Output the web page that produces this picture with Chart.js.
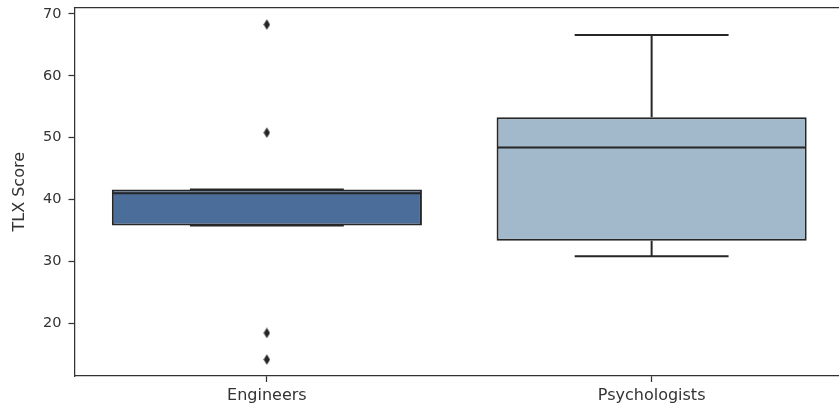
<!DOCTYPE html>
<html>
<head>
<meta charset="utf-8">
<script src="https://cdn.jsdelivr.net/npm/chart.js@4/dist/chart.umd.min.js"></script>
<style>
  html, body { margin: 0; padding: 0; background: #fff; overflow: hidden; width: 839px; height: 412px; }
  /* 右側外框在原圖被裁掉：畫布較寬，外層裁切 */
  #wrap { width: 839px; height: 412px; overflow: hidden; position: relative; }
  #chart { position: absolute; left: 0; top: 0; }
</style>
</head>
<body>
<div id="wrap"><canvas id="chart" width="850" height="412"></canvas></div>
<script>
// TLX 分數箱形圖
const categories = ['Engineers', 'Psychologists'];
const q1 = [35.8, 33.3];
const median = [41.0, 48.4];
const q3 = [41.6, 53.3];
const whiskerLow = [35.8, 30.8];
const whiskerHigh = [41.6, 66.6];
const outliers = [[68.3, 50.8, 18.4, 14.1], []];
const yTicks = [20, 30, 40, 50, 60, 70];

const boxFill = ['#4a6d99', '#a1b9cb'];
const lineColor = '#262626';
const spineColor = '#333333';
const textColor = '#333333';
const BOX_W = 0.8;

// 中位數線
const medianPts = [];
categories.forEach((c, i) => {
    medianPts.push({ x: i - BOX_W / 2, y: median[i] }, { x: i + BOX_W / 2, y: median[i] }, { x: i, y: null });
});

// 鬚線與端線
const whiskerPts = [];
categories.forEach((c, i) => {
    whiskerPts.push({ x: i, y: q3[i] }, { x: i, y: whiskerHigh[i] }, { x: i, y: null });
    whiskerPts.push({ x: i - BOX_W / 4, y: whiskerHigh[i] }, { x: i + BOX_W / 4, y: whiskerHigh[i] }, { x: i, y: null });
    whiskerPts.push({ x: i, y: q1[i] }, { x: i, y: whiskerLow[i] }, { x: i, y: null });
    whiskerPts.push({ x: i - BOX_W / 4, y: whiskerLow[i] }, { x: i + BOX_W / 4, y: whiskerLow[i] }, { x: i, y: null });
});

const outlierPts = [];
outliers.forEach((arr, i) => arr.forEach(v => outlierPts.push({ x: i, y: v })));

// 細長菱形標記
const diamond = document.createElement('canvas');
diamond.width = 7;
diamond.height = 11;
(function () {
    const g = diamond.getContext('2d');
    g.fillStyle = lineColor;
    g.beginPath();
    g.moveTo(3.5, 0.3);
    g.lineTo(6.7, 5.5);
    g.lineTo(3.5, 10.7);
    g.lineTo(0.3, 5.5);
    g.closePath();
    g.fill();
})();

const framePlugin = {
    id: 'frame',
    afterDraw(chart) {
        const { ctx, chartArea: a } = chart;
        ctx.save();
        ctx.strokeStyle = spineColor;
        ctx.lineWidth = 1.25;
        ctx.beginPath();
        ctx.moveTo(a.left - 0.6, a.top);
        ctx.lineTo(a.right, a.top);
        ctx.lineTo(a.right, a.bottom);
        ctx.stroke();
        ctx.restore();
    }
};

Chart.defaults.font.family = 'DejaVu Sans';
Chart.defaults.color = textColor;

new Chart(document.getElementById('chart'), {
    data: {
        labels: categories,
        datasets: [{
            type: 'scatter',
            xAxisID: 'x2',
            data: outlierPts,
            pointStyle: diamond,
            pointRadius: 5,
            order: 0
        }, {
            type: 'line',
            xAxisID: 'x2',
            data: medianPts,
            borderColor: lineColor,
            borderWidth: 2,
            pointRadius: 0,
            fill: false,
            spanGaps: false,
            order: 1
        }, {
            type: 'line',
            xAxisID: 'x2',
            data: whiskerPts,
            borderColor: lineColor,
            borderWidth: 2,
            pointRadius: 0,
            fill: false,
            spanGaps: false,
            order: 2
        }, {
            type: 'bar',
            xAxisID: 'x',
            data: categories.map((c, i) => [q1[i], q3[i]]),
            backgroundColor: boxFill,
            borderColor: lineColor,
            borderWidth: 2,
            borderSkipped: false,
            grouped: false,
            barPercentage: 0.806, // 邊框畫在內側，稍微放寬
            categoryPercentage: 1.0,
            order: 3
        }]
    },
    options: {
        responsive: false,
        animation: false,
        layout: { padding: { top: 7.5, right: 1.5, left: 0, bottom: 0 } },
        plugins: {
            legend: { display: false },
            tooltip: { enabled: false }
        },
        scales: {
            x: {
                type: 'category',
                offset: true,
                grid: { display: true, drawOnChartArea: false, offset: false, tickLength: 6, tickColor: spineColor, tickWidth: 1.25 },
                border: { display: true, color: spineColor, width: 1.25 },
                ticks: { color: textColor, font: { size: 16 }, padding: 4 },
                afterFit(scale) {
                    scale.height = 36;
                    scale.paddingLeft = 0;
                    scale.paddingRight = 0;
                }
            },
            x2: {
                type: 'linear',
                display: false,
                min: -0.5,
                max: 1.5
            },
            y: {
                type: 'linear',
                min: 11.44,
                max: 71.05,
                afterBuildTicks(scale) { scale.ticks = yTicks.map(v => ({ value: v })); },
                grid: { display: true, drawOnChartArea: false, tickLength: 6, tickColor: spineColor, tickWidth: 1.25 },
                border: { display: true, color: spineColor, width: 1.25 },
                ticks: { color: textColor, font: { size: 14.5 }, padding: 7 },
                title: { display: true, text: 'TLX Score', color: textColor, font: { size: 16 }, padding: { top: 10, bottom: 0 } },
                afterFit(scale) {
                    scale.width = 74.5;
                    scale.paddingTop = 0;
                    scale.paddingBottom = 0;
                }
            }
        }
    },
    plugins: [framePlugin]
});
</script>
</body>
</html>
